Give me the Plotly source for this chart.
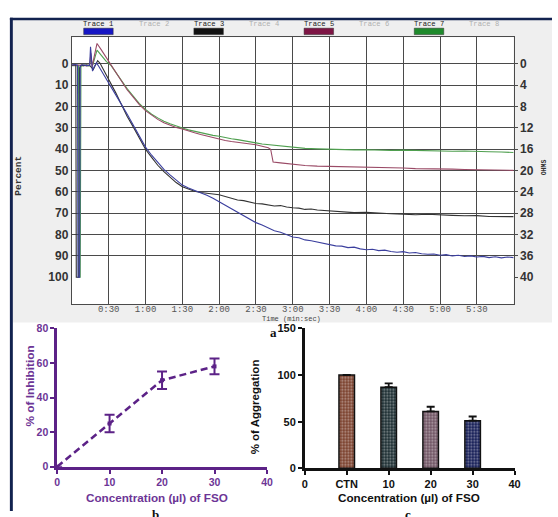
import plotly.graph_objects as go

W, H = 558, 517


def px(x):
    return x / W


def py(y):
    return 1 - y / H


MONO = "Liberation Mono, Courier New, monospace"
SANS = "Liberation Sans, Arial, sans-serif"
SERIF = "Liberation Serif, Times New Roman, serif"

# ---------------- panel a: aggregometer traces (time in s, percent) ----------------
t_green = [0, 5.4, 5.9, 6.8, 7.4, 10, 14, 15.5, 17, 20.5,
           24, 28, 32, 36, 40, 45, 50, 55, 60, 65,
           70, 75, 80, 85, 90, 95, 100, 105, 110, 115,
           120, 125, 130, 135, 140, 145, 150, 155, 160, 165,
           170, 175, 180, 190, 200, 210, 220, 230, 240, 250,
           260, 270, 280, 290, 300, 310, 320, 330, 340, 350, 360]
p_green = [0.8, 0.7, 100, 100, 1.2, 0.5, 1, -2, 0.5, -6.5,
           -4, -1.2, 0.8, 4.2, 7.6, 11.6, 15.1, 18.6, 21.3, 23.6,
           25.3, 26.9, 28, 29.1, 30, 30.9, 31.6, 32.4, 32.8, 33.5,
           33.9, 34.6, 35.1, 35.5, 36.1, 36.6, 37, 37.5, 37.8, 38.3,
           38.6, 39, 39.3, 39.6, 39.8, 40, 40.1, 40.3, 40.2, 40.4,
           40.5, 40.4, 40.6, 40.7, 40.7, 40.9, 40.8, 41.1, 41.2, 41.3, 41.5]

t_maroon = [0, 8, 12, 14.5, 15.5, 16.5, 18, 20.5, 24, 28,
            32, 36, 40, 45, 50, 55, 60, 65, 70, 75,
            80, 85, 90, 95, 100, 105, 110, 115, 120, 125,
            130, 135, 140, 145, 150, 155, 160, 162, 163, 164,
            170, 180, 190, 200, 210, 220, 230, 240, 250, 260,
            270, 280, 290, 300, 310, 320, 330, 340, 350, 360]
p_maroon = [0.7, 0.5, 0.9, 0.5, -5, 1.5, -3, -9.6, -6.6, -3.1,
            0.4, 4.1, 7.9, 12.1, 15.6, 19.1, 21.9, 24.1, 26, 27.6,
            28.7, 29.8, 30.5, 31.5, 32.3, 33.1, 33.8, 34.7, 35.4, 35.9,
            36.4, 36.8, 37.2, 37.4, 37.9, 38.6, 39.3, 40, 44, 46,
            46.4, 47.1, 47.6, 47.9, 48, 48.3, 48.2, 48.5, 48.6, 48.8,
            48.8, 49.1, 49.1, 49.3, 49.3, 49.5, 49.6, 49.6, 49.8, 49.9]

t_black = [0, 2.5, 3.2, 3.6, 5.6, 6.2, 7.2, 8.2, 9.5, 12,
           14.5, 16, 17.5, 19, 21, 23, 26, 29, 32, 36,
           40, 45, 50, 55, 60, 65, 70, 75, 80, 85,
           90, 95, 100, 105, 110, 115, 120, 125, 130, 135,
           140, 145, 150, 155, 160, 165, 170, 175, 180, 185,
           190, 195, 200, 210, 220, 230, 240, 250, 260, 270,
           280, 290, 300, 310, 320, 330, 340, 350, 360]
p_black = [0.6, 0.4, 0.8, 100, 100, 2, 0.8, 0.5, 0.9, 0.4,
           0.7, 1.8, 2.6, 0.8, -1.5, -0.3, 2.8, 6, 9.5, 13.8,
           18.5, 24.5, 29.5, 35, 40, 43.8, 47.5, 50.5, 53.2, 55.6,
           57.6, 58.8, 59.7, 60.3, 60.5, 61, 61.3, 62.2, 62.9, 63.8,
           64.1, 64.9, 65.4, 65.6, 66.1, 66.6, 66.4, 67.1, 67.4, 67.6,
           68.2, 68, 68.5, 68.9, 69.2, 69.7, 69.6, 70, 70.2, 70.4,
           70.7, 70.5, 70.9, 71, 71.2, 71.1, 71.5, 71.7, 71.6]

t_blue = [0, 3, 4.6, 5.0, 6.3, 6.8, 9, 12, 14.5, 15.2,
          15.8, 16.8, 18, 20, 22, 25, 28, 32, 36, 40,
          45, 50, 55, 60, 65, 70, 75, 80, 85, 90,
          95, 100, 105, 110, 115, 120, 125, 130, 135, 140,
          145, 150, 155, 160, 165, 170, 175, 180, 185, 190,
          195, 200, 205, 210, 215, 220, 225, 230, 235, 240,
          245, 250, 255, 260, 265, 270, 275, 280, 285, 290,
          295, 300, 305, 310, 315, 320, 325, 330, 335, 340,
          345, 350, 355, 360]
p_blue = [0.5, 0.3, 0.6, 100, 100, 0.8, 0.4, 0.8, 0.6, -8,
          -4, 3.4, 1.5, -0.5, 1.2, 4.2, 7.2, 11, 14.8, 18.6,
          23.5, 28.5, 34, 39, 42.8, 46.3, 49.4, 52, 54.6, 56.8,
          58.2, 59.3, 60.4, 61.6, 63, 64.6, 66.4, 68, 69.5, 71.2,
          72.6, 74.4, 75.5, 76.7, 78.2, 78.9, 80, 81.1, 81.5, 82.5,
          82.9, 83.5, 84.1, 84.4, 85.3, 85.4, 86.1, 85.9, 86.7, 87.1,
          86.9, 87.5, 87.3, 87.9, 88.3, 88, 88.6, 88.4, 89, 89.2,
          89.1, 89.7, 89.4, 90, 89.7, 90.3, 90, 90.5, 90.2, 90.8,
          90.4, 90.9, 90.5, 90.8]

time_ticks = [30, 60, 90, 120, 150, 180, 210, 240, 270, 300, 330]
time_labels = ["0:30", "1:00", "1:30", "2:00", "2:30", "3:00",
               "3:30", "4:00", "4:30", "5:00", "5:30"]
percent_ticks = [0, 10, 20, 30, 40, 50, 60, 70, 80, 90, 100]
ohms_ticks = [0, 4, 8, 12, 16, 20, 24, 28, 32, 36, 40]

trace_names = ["Trace 1", "Trace 2", "Trace 3", "Trace 4",
               "Trace 5", "Trace 6", "Trace 7", "Trace 8"]
trace_active = [True, False, True, False, True, False, True, False]
swatch_colors = ["#1616c4", None, "#111111", None, "#7d1544", None, "#1f8a2c", None]

# ---------------- panel b: inhibition ----------------
conc_b = [0, 10, 20, 30]
inhibition = [0, 25, 50, 58]
inhibition_err = [0, 5, 5, 4.5]

# ---------------- panel c: aggregation bars ----------------
bar_labels = ["CTN", "10", "20", "30"]
bar_pos = [1, 2, 3, 4]
aggregation = [100, 87, 61, 51]
aggregation_err = [0, 4, 5, 4.5]
c_tick_pos = [0, 1, 2, 3, 4, 5]
c_tick_text = ["0", "CTN", "10", "20", "30", "40"]
bar_colors = ["#7a3f2c", "#1a2c30", "#6e5262", "#141c55"]
bar_dots = ["#9c5a40", "#31484c", "#967888", "#26337a"]

PURPLE_TXT = "#6d3596"
PURPLE_LN = "#5c2287"
GRID = "#4a4a4a"

fig = go.Figure()

# aggregometer curves
for t, p, col in [(t_green, p_green, "#4f9f4f"),
                  (t_maroon, p_maroon, "#9a4a66"),
                  (t_black, p_black, "#333333"),
                  (t_blue, p_blue, "#3b3f9e")]:
    fig.add_trace(go.Scatter(x=t, y=p, mode="lines", line=dict(color=col, width=1.1),
                             xaxis="x", yaxis="y", showlegend=False, hoverinfo="skip"))
# keep the right-hand and grid axes alive
fig.add_trace(go.Scatter(x=[None], y=[None], xaxis="x", yaxis="y2", showlegend=False))
fig.add_trace(go.Scatter(x=[None], y=[None], xaxis="x", yaxis="y5", showlegend=False))

# panel b
fig.add_trace(go.Scatter(
    x=conc_b, y=inhibition, mode="lines+markers",
    line=dict(color=PURPLE_LN, width=2.5, dash="7px,4px"),
    marker=dict(color=PURPLE_LN, size=4, symbol="square"),
    error_y=dict(type="data", array=inhibition_err, color=PURPLE_LN, thickness=2, width=5),
    xaxis="x2", yaxis="y3", showlegend=False, cliponaxis=False, hoverinfo="skip"))

# panel c
fig.add_trace(go.Bar(
    x=bar_pos, y=aggregation, width=0.37,
    marker=dict(color=bar_colors, line=dict(color="#111111", width=1.5),
                pattern=dict(shape=".", fgcolor=bar_dots, size=3, solidity=0.35, fillmode="overlay")),
    error_y=dict(type="data", array=aggregation_err, arrayminus=[0, 0, 0, 0],
                 symmetric=False, color="#111111", thickness=1.8, width=4),
    xaxis="x3", yaxis="y4", showlegend=False, hoverinfo="skip"))

top_dom_y = [py(305), py(32)]
fig.update_layout(
    width=W, height=H, autosize=False,
    margin=dict(l=0, r=0, t=0, b=0, pad=0),
    paper_bgcolor="white", plot_bgcolor="white",
    xaxis=dict(domain=[px(70), px(519)], range=[0, 360], anchor="y",
               tickmode="array", tickvals=time_ticks, ticktext=time_labels,
               showgrid=True, gridcolor=GRID, gridwidth=1.2, zeroline=False,
               showline=True, linecolor=GRID, linewidth=1.2, mirror=True, ticks="",
               ticklabelstandoff=-4,
               tickfont=dict(family=MONO, size=9, color="#555555")),
    yaxis=dict(domain=top_dom_y, range=[112.5, -12.5], anchor="x",
               tickmode="array", tickvals=percent_ticks, showgrid=False, zeroline=False,
               showline=True, linecolor=GRID, linewidth=1.2, mirror=True, ticks="",
               tickfont=dict(family=SANS, size=12, color="#333333", weight="bold")),
    yaxis2=dict(range=[45, -5], overlaying="y", side="right", anchor="x",
                tickmode="array", tickvals=ohms_ticks, showgrid=False, zeroline=False,
                ticks="outside", ticklen=3, tickcolor=GRID, tickwidth=1.2,
                tickfont=dict(family=SANS, size=12, color="#333333", weight="bold")),
    yaxis5=dict(range=[112.5, -12.5], overlaying="y", anchor="x",
                tickmode="array", tickvals=percent_ticks[:-1], showticklabels=False,
                showgrid=True, gridcolor=GRID, gridwidth=1.2, zeroline=False, ticks=""),
    xaxis2=dict(domain=[px(55), px(268.3)], range=[0, 40], anchor="y3",
                tickmode="array", tickvals=[0, 10, 20, 30, 40],
                showgrid=False, zeroline=False, showline=True, linecolor=PURPLE_LN, linewidth=2.5,
                ticks="outside", ticklen=4, tickwidth=2, tickcolor=PURPLE_LN,
                tickfont=dict(family=SANS, size=10.5, color=PURPLE_TXT, weight="bold")),
    yaxis3=dict(domain=[py(471.7), py(330)], range=[0, 80], anchor="x2",
                tickmode="array", tickvals=[0, 20, 40, 60, 80],
                showgrid=False, zeroline=False, showline=True, linecolor=PURPLE_LN, linewidth=2.5,
                ticks="outside", ticklen=4, tickwidth=2, tickcolor=PURPLE_LN,
                tickfont=dict(family=SANS, size=10.5, color=PURPLE_TXT, weight="bold")),
    xaxis3=dict(domain=[px(306.7), px(520)], range=[0, 5], anchor="y4",
                tickmode="array", tickvals=c_tick_pos, ticktext=c_tick_text,
                showgrid=False, zeroline=False, showline=True, linecolor="#111111", linewidth=2.5,
                ticks="outside", ticklen=4, tickwidth=2, tickcolor="#111111",
                tickfont=dict(family=SANS, size=11, color="#111111", weight="bold")),
    yaxis4=dict(domain=[py(473.3), py(330)], range=[0, 150], anchor="x3",
                tickmode="array", tickvals=[0, 50, 100, 150],
                showgrid=False, zeroline=False, showline=True, linecolor="#111111", linewidth=2.5,
                ticks="outside", ticklen=4, tickwidth=2, tickcolor="#111111",
                tickfont=dict(family=SANS, size=11, color="#111111", weight="bold")),
)

shapes = [
    # light instrument panel behind the tracing
    dict(type="rect", xref="paper", yref="paper", x0=px(10), x1=1, y0=py(324), y1=py(14),
         fillcolor="#efefef", line=dict(width=0), layer="below"),
    dict(type="rect", xref="paper", yref="paper", x0=px(70), x1=px(519), y0=py(305), y1=py(32),
         fillcolor="white", line=dict(width=0), layer="below"),
    # navy frame
    dict(type="rect", xref="paper", yref="paper", x0=px(7), x1=px(10), y0=0, y1=py(12),
         fillcolor="#12224f", line=dict(width=0), layer="above"),
    dict(type="rect", xref="paper", yref="paper", x0=px(7), x1=1, y0=py(14.5), y1=py(12),
         fillcolor="#12224f", line=dict(width=0), layer="above"),
]

annotations = []
for i, (name, active, sw) in enumerate(zip(trace_names, trace_active, swatch_colors)):
    cx = 97 + 56 * i
    annotations.append(dict(x=px(cx), y=py(18.5), xref="paper", yref="paper", text=name,
                            showarrow=False, xanchor="center", yanchor="middle",
                            font=dict(family=MONO, size=7.2,
                                      color="#222222" if active else "#b0b0b0")))
    if active:
        shapes.append(dict(type="rect", xref="paper", yref="paper",
                           x0=px(cx - 15), x1=px(cx + 15), y0=py(29.3), y1=py(22.7),
                           fillcolor=sw, line=dict(color="#333333", width=0.5)))


def label(text, x, y, size, color, family=SANS, weight="bold", angle=0):
    annotations.append(dict(x=px(x), y=py(y), xref="paper", yref="paper", text=text,
                            showarrow=False, xanchor="center", yanchor="middle", textangle=angle,
                            font=dict(family=family, size=size, color=color, weight=weight)))


label("Percent", 16, 174, 9.5, "#333333", family=MONO, angle=-90)
label("OHMS", 550, 165, 6.5, "#333333", family=MONO, angle=-90)
label("Time (min:sec)", 293, 320.5, 7, "#444444", family=MONO, weight="normal")
label("a", 275, 334, 13, "#111111", family=SERIF)

label("% of Inhibition", 27, 389, 11.8, PURPLE_TXT, angle=-90)
label("Concentration (µl) of FSO", 157, 503, 11.7, PURPLE_TXT)
label("% of Aggregation", 257, 410, 11.5, "#111111", angle=-90)
label("Concentration (µl) of FSO", 412.5, 503, 11.7, "#111111")

# panel letters sit on the lower edge of the figure
annotations.append(dict(x=px(155), y=py(511), xref="paper", yref="paper", text="b",
                        showarrow=False, xanchor="center", yanchor="top",
                        font=dict(family=SERIF, size=13, color="#111111", weight="bold")))
annotations.append(dict(x=px(412), y=py(511), xref="paper", yref="paper", text="c",
                        showarrow=False, xanchor="center", yanchor="top",
                        font=dict(family=SERIF, size=13, color="#111111", weight="bold")))

fig.update_layout(shapes=shapes, annotations=annotations)

fig.write_html("out.html")
